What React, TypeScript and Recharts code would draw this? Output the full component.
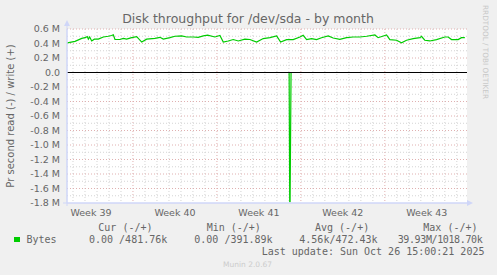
import {
	LineChart,
	Line,
	XAxis,
	YAxis,
	CartesianGrid,
	ReferenceLine,
} from "recharts";

// time in days since Mon Sep 22 2025 00:00, values in M bytes/s
const write_days = [
	1.5, 1.53, 2.17, 2.73, 3.0, 3.19, 3.28, 3.39, 3.56, 3.78, 4.11, 4.53, 4.94, 5.22,
	5.36, 5.5, 5.92, 6.19, 6.47, 6.89, 7.31, 7.73, 8.14, 8.83, 9.25, 9.53, 10.08, 10.5,
	11.06, 11.48, 12.03, 12.44, 12.86, 13.23, 13.83, 14.25, 14.53, 14.94, 15.36, 15.78,
	16.33, 16.75, 17.31, 17.86, 18.42, 18.98, 19.31, 19.81, 20.36, 20.92, 21.19, 21.48,
	21.89, 22.31, 22.72, 23.28, 23.69, 24.25, 24.81, 25.36, 25.92, 26.48, 27.17, 27.44,
	28.14, 28.42, 28.98, 29.39, 29.81, 30.36, 30.92, 31.06, 31.33, 31.75, 32.31, 33.0,
	33.28, 33.56, 34.11, 34.39, 34.67,
];
const write_vals = [
	0.41, 0.41, 0.43, 0.47, 0.48, 0.495, 0.46, 0.49, 0.435, 0.46, 0.46, 0.49, 0.5, 0.51,
	0.52, 0.455, 0.455, 0.47, 0.46, 0.48, 0.495, 0.42, 0.46, 0.47, 0.485, 0.46, 0.48, 0.5,
	0.505, 0.49, 0.49, 0.485, 0.505, 0.515, 0.49, 0.51, 0.42, 0.435, 0.455, 0.435,
	0.46, 0.455, 0.42, 0.468, 0.48, 0.505, 0.42, 0.454, 0.454, 0.49, 0.513, 0.454,
	0.468, 0.454, 0.48, 0.505, 0.476, 0.458, 0.48, 0.49, 0.49, 0.5, 0.518, 0.48,
	0.518, 0.454, 0.445, 0.41, 0.445, 0.468, 0.48, 0.5, 0.445, 0.435, 0.454, 0.49,
	0.49, 0.454, 0.454, 0.48, 0.48,
];
const read_days = [1.5, 20.02, 20.07, 20.1, 20.18, 34.67];
const read_vals = [0, 0, -1.78, -1.78, 0, 0];

const week_ticks = [3.5, 10.5, 17.5, 24.5, 31.5];
const week_labels = ["Week 39", "Week 40", "Week 41", "Week 42", "Week 43"];
const y_ticks = [-1.8, -1.6, -1.4, -1.2, -1.0, -0.8, -0.6, -0.4, -0.2, 0, 0.2, 0.4, 0.6];
const y_minor = [-1.7, -1.5, -1.3, -1.1, -0.9, -0.7, -0.5, -0.3, -0.1, 0.1, 0.3, 0.5];
const day_minor = [
	2, 3, 4, 5, 6, 8, 9, 10, 11, 12, 13, 15, 16, 17, 18, 19, 20, 22, 23, 24, 25, 26,
	27, 29, 30, 31, 32, 33, 34,
];
const week_major = [7, 14, 21, 28];

const legend_heads = ["Cur (-/+)", "Min (-/+)", "Avg (-/+)", "Max (-/+)"];
const legend_vals = ["0.00 /481.76k", "0.00 /391.89k", "4.56k/472.43k", "39.93M/1018.70k"];

const write_data = write_days.map((d, i) => ({ day: d, v: write_vals[i] }));
const read_data = read_days.map((d, i) => ({ day: d, v: read_vals[i] }));

const GREEN = "#00cc00";
const AXIS = "#cfd6f8";
const FONT = "#666666";

function fmtY(v: number) {
	if (Math.abs(v) < 1e-9) return "0.0";
	return `${v.toFixed(1)} M`;
}

export default function App() {
	const sans = "DejaVu Sans, sans-serif";
	const mono = "DejaVu Sans Mono, monospace";
	return (
		<div
			style={{
				position: "absolute",
				left: 0,
				top: 0,
				width: 497,
				height: 275,
				background: "#f0f0f0",
				overflow: "hidden",
			}}
		>
			<LineChart
				width={497}
				height={275}
				margin={{ top: 29, right: 30, bottom: 52, left: 0 }}
			>
				<CartesianGrid
					fill="#ffffff"
					stroke="#d4d4d4"
					strokeDasharray="1 2"
					horizontalValues={y_minor}
					verticalValues={day_minor}
					syncWithTicks={false}
				/>
				<CartesianGrid
					stroke="#e0b0b0"
					strokeDasharray="1 2"
					horizontalValues={y_ticks.slice(1)}
					verticalValues={week_major}
					syncWithTicks={false}
				/>
				<XAxis
					type="number"
					dataKey="day"
					domain={[1.5, 34.85]}
					allowDataOverflow
					ticks={week_ticks}
					interval={0}
					tickFormatter={(v) => week_labels[week_ticks.indexOf(v)] ?? ""}
					height={20}
					tickLine={false}
					tickSize={4}
					tickMargin={2}
					axisLine={{ stroke: AXIS }}
					tick={{ fill: FONT, fontSize: 9.5, fontFamily: sans }}
				/>
				<YAxis
					type="number"
					domain={[-1.8, 0.6]}
					allowDataOverflow
					ticks={y_ticks}
					interval={0}
					tickFormatter={fmtY}
					width={67}
					tickLine={false}
					tickSize={5}
					tickMargin={2}
					axisLine={{ stroke: AXIS }}
					tick={{ fill: FONT, fontSize: 9.5, fontFamily: sans }}
				/>
				<Line
					data={read_data}
					dataKey="v"
					type="linear"
					stroke={GREEN}
					strokeWidth={1.2}
					dot={false}
					isAnimationActive={false}
				/>
				<ReferenceLine y={0} stroke="#000000" strokeWidth={1.2} />
				<Line
					data={write_data}
					dataKey="v"
					type="linear"
					stroke={GREEN}
					strokeWidth={1.2}
					dot={false}
					isAnimationActive={false}
				/>
			</LineChart>
			<svg
				width={497}
				height={275}
				style={{ position: "absolute", left: 0, top: 0, pointerEvents: "none" }}
			>
				<line x1={67} y1={206} x2={67} y2={24} stroke={AXIS} />
				<polygon points="64,26 70,26 67,20" fill={AXIS} />
				<line x1={63} y1={203} x2={469} y2={203} stroke={AXIS} />
				<polygon points="467,200 467,206 473,203" fill={AXIS} />
				<text
					x={248}
					y={23}
					textAnchor="middle"
					fill={FONT}
					fontSize={12.5}
					fontFamily={sans}
				>
					Disk throughput for /dev/sda - by month
				</text>
				<text
					transform="translate(14,116) rotate(-90)"
					textAnchor="middle"
					fill={FONT}
					fontSize={10}
					fontFamily={sans}
				>
					Pr second read (-) / write (+)
				</text>
				<text
					transform="translate(483,5) rotate(90)"
					textAnchor="start"
					fill="#c8c8c8"
					fontSize={7.3}
					fontFamily={sans}
				>
					RRDTOOL / TOBI OETIKER
				</text>
				{legend_heads.map((h, i) => (
					<text
						key={h}
						x={[98.3, 206.7, 315, 423.3][i]}
						y={231}
						fill={FONT}
						fontSize={10}
						fontFamily={mono}
					>
						{h}
					</text>
				))}
				<rect x={14} y={237} width={6} height={5} fill={GREEN} />
				<text x={26.5} y={243.3} fill={FONT} fontSize={10} fontFamily={mono}>
					Bytes
				</text>
				{legend_vals.map((v, i) => (
					<text
						key={i}
						x={[89, 194.3, 299.3, 397.7][i]}
						y={243.3}
						fill={FONT}
						fontSize={10}
						fontFamily={mono}
						textLength={i === 3 ? 85 : undefined}
						style={{ whiteSpace: "pre" }}
					>
						{v}
					</text>
				))}
				<text
					x={261.7}
					y={255}
					fill={FONT}
					fontSize={10}
					fontFamily={mono}
					style={{ whiteSpace: "pre" }}
				>
					Last update: Sun Oct 26 15:00:21 2025
				</text>
				<text x={223} y={266.5} fill="#cccccc" fontSize={7.5} fontFamily={sans}>
					Munin 2.0.67
				</text>
			</svg>
		</div>
	);
}
